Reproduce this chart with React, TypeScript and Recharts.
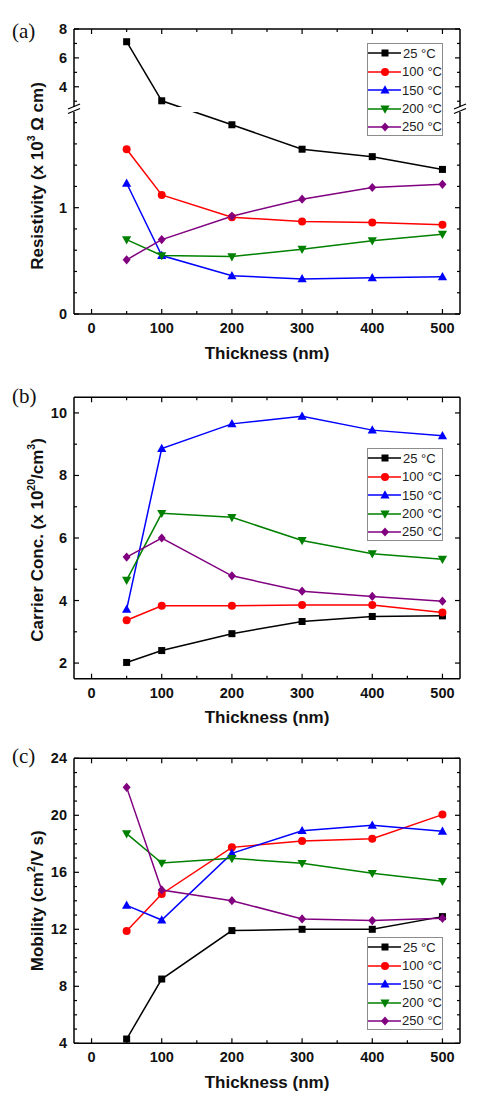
import React from 'react';
import { LineChart, Line, XAxis, YAxis, Legend } from 'recharts';

const thickness = [50, 100, 200, 300, 400, 500];
const temperatures = ['25', '100', '150', '200', '250'];

// resistivity, x10^-3 ohm cm
const resistivity25 = [7.12, 3.03, 1.78, 1.55, 1.48, 1.36];
const resistivity100 = [1.55, 1.12, 0.91, 0.87, 0.86, 0.84];
const resistivity150 = [1.23, 0.55, 0.36, 0.33, 0.34, 0.35];
const resistivity200 = [0.7, 0.55, 0.54, 0.61, 0.69, 0.75];
const resistivity250 = [0.51, 0.7, 0.92, 1.08, 1.19, 1.22];

// carrier concentration, x10^20 /cm^3
const carrier25 = [2.02, 2.4, 2.94, 3.33, 3.49, 3.51];
const carrier100 = [3.37, 3.83, 3.83, 3.86, 3.86, 3.62];
const carrier150 = [3.72, 8.86, 9.65, 9.89, 9.45, 9.27];
const carrier200 = [4.65, 6.79, 6.66, 5.92, 5.5, 5.32];
const carrier250 = [5.39, 6.0, 4.79, 4.3, 4.13, 3.98];

// mobility, cm^2/V s
const mobility25 = [4.3, 8.51, 11.91, 12.0, 12.0, 12.89];
const mobility100 = [11.88, 14.48, 17.75, 18.2, 18.36, 20.05];
const mobility150 = [13.68, 12.65, 17.33, 18.92, 19.3, 18.88];
const mobility200 = [18.71, 16.65, 16.98, 16.63, 15.93, 15.37];
const mobility250 = [21.96, 14.76, 14.01, 12.73, 12.61, 12.77];

const xTicks = [0, 50, 100, 150, 200, 250, 300, 350, 400, 450, 500];
const xTickLabels = [0, 100, 200, 300, 400, 500];
const resistivityTicks = [0, 0.2, 0.4, 0.6, 0.8, 1, 1.2, 1.4, 1.6, 1.8, 3, 4, 5, 6, 7, 8];
const resistivityTickLabels = [0, 1, 4, 6, 8];
const carrierTicks = [2, 3, 4, 5, 6, 7, 8, 9, 10];
const carrierTickLabels = [2, 4, 6, 8, 10];
const mobilityTicks = [4, 5, 6, 7, 8, 9, 10, 11, 12, 13, 14, 15, 16, 17, 18, 19, 20, 21, 22, 23, 24];
const mobilityTickLabels = [4, 8, 12, 16, 20, 24];

const seriesColors = ['#000000', '#ff0000', '#0000ff', '#008000', '#800080'];
const seriesShapes = ['square', 'circle', 'up', 'down', 'diamond'];

const FONT = '"Liberation Sans", Arial, Helvetica, sans-serif';
const CHART_W = 483;
const PLOT_LEFT = 74;
const PLOT_RIGHT = 460;
const AXIS_LINE = { stroke: '#000', strokeWidth: 1.5 };

// broken resistivity axis: 0..1.9 below the break, 2.6..8 above it
const BREAK_LOW = 1.9;
const BREAK_HIGH = 2.6;
const RHO_TOP = 8;
const LOW_LEN = 202;
const GAP_LEN = 5;
const HIGH_LEN = 78;
const toBroken = (v: number) =>
  v <= BREAK_LOW
    ? (v / BREAK_LOW) * LOW_LEN
    : LOW_LEN + GAP_LEN + ((v - BREAK_HIGH) / (RHO_TOP - BREAK_HIGH)) * HIGH_LEN;
const fromBroken = (d: number) =>
  d <= LOW_LEN
    ? (d / LOW_LEN) * BREAK_LOW
    : BREAK_HIGH + ((d - LOW_LEN - GAP_LEN) / HIGH_LEN) * (RHO_TOP - BREAK_HIGH);

const buildRows = (series: number[][], map = (v: number) => v) =>
  thickness.map((x, i) => {
    const row: any = { x };
    temperatures.forEach((t, k) => {
      row['t' + t] = map(series[k][i]);
    });
    return row;
  });

const resistivityRows = buildRows(
  [resistivity25, resistivity100, resistivity150, resistivity200, resistivity250],
  toBroken
);
const carrierRows = buildRows([carrier25, carrier100, carrier150, carrier200, carrier250]);
const mobilityRows = buildRows([mobility25, mobility100, mobility150, mobility200, mobility250]);

function Marker({ cx, cy, shape, color }: any) {
  if (cx == null || cy == null) return <g />;
  switch (shape) {
    case 'square':
      return <rect x={cx - 3.5} y={cy - 3.5} width={7} height={7} fill={color} />;
    case 'circle':
      return <circle cx={cx} cy={cy} r={4} fill={color} />;
    case 'up':
      return <polygon points={`${cx},${cy - 4.8} ${cx + 4.6},${cy + 3.4} ${cx - 4.6},${cy + 3.4}`} fill={color} />;
    case 'down':
      return <polygon points={`${cx},${cy + 4.8} ${cx + 4.6},${cy - 3.4} ${cx - 4.6},${cy - 3.4}`} fill={color} />;
    default:
      return <polygon points={`${cx},${cy - 4.6} ${cx + 4},${cy} ${cx},${cy + 4.6} ${cx - 4},${cy}`} fill={color} />;
  }
}

const near = (list: number[], v: number) => list.some((l) => Math.abs(l - v) < 1e-6);

function BottomTick({ x, y, payload }: any) {
  const major = near(xTickLabels, payload.value);
  return (
    <g>
      <line x1={x} x2={x} y1={y} y2={y - (major ? 5 : 3)} stroke="#000" strokeWidth={1.2} />
      {major && (
        <text x={x} y={y + 14} textAnchor="middle" dominantBaseline="central" fontFamily={FONT} fontWeight={700} fontSize={14.5} fill="#111">
          {payload.value}
        </text>
      )}
    </g>
  );
}

function TopTick({ x, y, payload }: any) {
  const major = near(xTickLabels, payload.value);
  return <line x1={x} x2={x} y1={y} y2={y + (major ? 5 : 3)} stroke="#000" strokeWidth={1.2} />;
}

function LeftTick({ x, y, payload, toValue, labels }: any) {
  const v = toValue(payload.value);
  const major = near(labels, v);
  return (
    <g>
      <line x1={x} x2={x + (major ? 5 : 3)} y1={y} y2={y} stroke="#000" strokeWidth={1.2} />
      {major && (
        <text x={x - 7} y={y} textAnchor="end" dominantBaseline="central" fontFamily={FONT} fontWeight={700} fontSize={14.5} fill="#111">
          {Math.round(v * 10) / 10}
        </text>
      )}
    </g>
  );
}

function RightTick({ x, y, payload, toValue, labels }: any) {
  const major = near(labels, toValue(payload.value));
  return <line x1={x} x2={x - (major ? 5 : 3)} y1={y} y2={y} stroke="#000" strokeWidth={1.2} />;
}

function XTitle({ viewBox }: any) {
  if (!viewBox) return null;
  return (
    <text x={viewBox.x + viewBox.width / 2} y={viewBox.y + 39} textAnchor="middle" dominantBaseline="central" fontFamily={FONT} fontWeight={700} fontSize={17} fill="#111">
      Thickness (nm)
    </text>
  );
}

function YTitle({ viewBox, parts, dy }: any) {
  if (!viewBox) return null;
  const cx = viewBox.x + 37;
  const cy = viewBox.y + viewBox.height / 2 + dy;
  let raised = false;
  return (
    <text x={cx} y={cy} transform={`rotate(-90 ${cx} ${cy})`} textAnchor="middle" dominantBaseline="central" fontFamily={FONT} fontWeight={700} fontSize={17} fill="#111">
      {parts.map((p: any, i: number) => {
        const shift = p.sup ? (raised ? 0 : -6) : raised ? 6 : 0;
        raised = !!p.sup;
        return (
          <tspan key={i} dy={shift} fontSize={p.sup ? 10.5 : 17}>
            {p.text}
          </tspan>
        );
      })}
    </text>
  );
}

function LegendBox() {
  return (
    <div style={{ width: 76, height: 93, boxSizing: 'border-box', border: '1px solid #8c8c8c', background: '#fff', paddingTop: 0.5 }}>
      {temperatures.map((t, k) => (
        <div key={t} style={{ height: 18.4, display: 'flex', alignItems: 'center' }}>
          <svg width={34} height={12} style={{ display: 'block' }}>
            <line x1={0} x2={33} y1={6} y2={6} stroke={seriesColors[k]} strokeWidth={1.5} />
            <Marker cx={17} cy={6} shape={seriesShapes[k]} color={seriesColors[k]} />
          </svg>
          <span style={{ marginLeft: 1, fontFamily: FONT, fontSize: 13, color: '#222', whiteSpace: 'nowrap' }}>
            {t} °C
          </span>
        </div>
      ))}
    </div>
  );
}

function Panel(p: any) {
  const axisTickProps = { toValue: p.toValue, labels: p.labels };
  return (
    <div style={{ position: 'absolute', left: 0, top: p.top, width: CHART_W, height: p.height }}>
      <LineChart width={CHART_W} height={p.height} data={p.rows} margin={{ top: 0, right: 0, bottom: 0, left: 0 }}>
        <XAxis
          xAxisId="b"
          dataKey="x"
          type="number"
          domain={[-25, 525]}
          ticks={xTicks}
          interval={0}
          height={p.height - p.plotBottom}
          tickSize={0}
          tickMargin={0}
          tickLine={false}
          axisLine={AXIS_LINE}
          tick={(t: any) => <BottomTick {...t} />}
          label={(l: any) => <XTitle {...l} />}
        />
        <XAxis
          xAxisId="t"
          orientation="top"
          dataKey="x"
          type="number"
          domain={[-25, 525]}
          allowDataOverflow
          ticks={xTicks}
          interval={0}
          height={p.plotTop}
          tickSize={0}
          tickMargin={0}
          tickLine={false}
          axisLine={AXIS_LINE}
          tick={(t: any) => <TopTick {...t} />}
        />
        <YAxis
          yAxisId="l"
          type="number"
          domain={p.yDomain}
          ticks={p.yTicks}
          interval={0}
          width={PLOT_LEFT}
          tickSize={0}
          tickMargin={0}
          tickLine={false}
          axisLine={AXIS_LINE}
          tick={(t: any) => <LeftTick {...t} {...axisTickProps} />}
          label={(l: any) => <YTitle {...l} parts={p.titleParts} dy={p.titleDy} />}
        />
        <YAxis
          yAxisId="r"
          orientation="right"
          type="number"
          domain={p.yDomain}
          allowDataOverflow
          ticks={p.yTicks}
          interval={0}
          width={CHART_W - PLOT_RIGHT}
          tickSize={0}
          tickMargin={0}
          tickLine={false}
          axisLine={AXIS_LINE}
          tick={(t: any) => <RightTick {...t} {...axisTickProps} />}
        />
        {temperatures.map((t, k) => (
          <Line
            key={t}
            xAxisId="b"
            yAxisId="l"
            type="linear"
            dataKey={'t' + t}
            name={`${t} °C`}
            stroke={seriesColors[k]}
            strokeWidth={1.5}
            dot={(d: any) => <Marker key={`${t}-${d.index}`} cx={d.cx} cy={d.cy} shape={seriesShapes[k]} color={seriesColors[k]} />}
            activeDot={false}
            isAnimationActive={false}
          />
        ))}
        <Legend
          layout="vertical"
          align="center"
          verticalAlign="middle"
          content={() => <LegendBox />}
          wrapperStyle={{ left: 367, top: p.legendTop, width: 76, height: 93 }}
        />
      </LineChart>
      <div style={{ position: 'absolute', left: 12, top: p.letterTop, fontFamily: '"Liberation Serif", "Times New Roman", serif', fontSize: 21, lineHeight: '21px', color: '#111' }}>
        ({p.letter})
      </div>
      {p.children}
    </div>
  );
}

function AxisBreak({ plotTop }: any) {
  const y = plotTop + HIGH_LEN;
  const mid = y + GAP_LEN / 2;
  const marks = (x: number) => (
    <g stroke="#000" strokeWidth={1.3}>
      <line x1={x - 6} y1={mid - 0.5} x2={x + 6} y2={mid - 5.5} />
      <line x1={x - 6} y1={mid + 4} x2={x + 6} y2={mid - 1} />
    </g>
  );
  return (
    <svg width={CHART_W} height={200} style={{ position: 'absolute', left: 0, top: 0, pointerEvents: 'none' }}>
      <rect x={60} y={y} width={306} height={GAP_LEN} fill="#fff" />
      <rect x={444} y={y} width={28} height={GAP_LEN} fill="#fff" />
      {marks(PLOT_LEFT)}
      {marks(PLOT_RIGHT)}
    </svg>
  );
}

export default function App() {
  const identity = (v: number) => v;
  return (
    <div style={{ position: 'absolute', left: 0, top: 0, width: CHART_W, height: 1100, background: '#fff' }}>
      <Panel
        letter="a"
        top={0}
        height={365}
        plotTop={29}
        plotBottom={314}
        rows={resistivityRows}
        yDomain={[0, LOW_LEN + GAP_LEN + HIGH_LEN]}
        yTicks={resistivityTicks.map(toBroken)}
        toValue={fromBroken}
        labels={resistivityTickLabels}
        titleParts={[{ text: 'Resistivity (x 10' }, { text: '3', sup: true }, { text: ' Ω cm)' }]}
        titleDy={4.5}
        legendTop={42.7}
        letterTop={21}
      >
        <AxisBreak plotTop={29} />
      </Panel>
      <Panel
        letter="b"
        top={365}
        height={365}
        plotTop={32.3}
        plotBottom={313.7}
        rows={carrierRows}
        yDomain={[1.5, 10.5]}
        yTicks={carrierTicks}
        toValue={identity}
        labels={carrierTickLabels}
        titleParts={[{ text: 'Carrier Conc. (x 10' }, { text: '20', sup: true }, { text: '/cm' }, { text: '3', sup: true }, { text: ')' }]}
        titleDy={2}
        legendTop={82.7}
        letterTop={21}
      />
      <Panel
        letter="c"
        top={730}
        height={370}
        plotTop={28.3}
        plotBottom={313.3}
        rows={mobilityRows}
        yDomain={[4, 24]}
        yTicks={mobilityTicks}
        toValue={identity}
        labels={mobilityTickLabels}
        titleParts={[{ text: 'Mobility (cm' }, { text: '2', sup: true }, { text: '/V s)' }]}
        titleDy={0}
        legendTop={206.7}
        letterTop={16}
      />
    </div>
  );
}
